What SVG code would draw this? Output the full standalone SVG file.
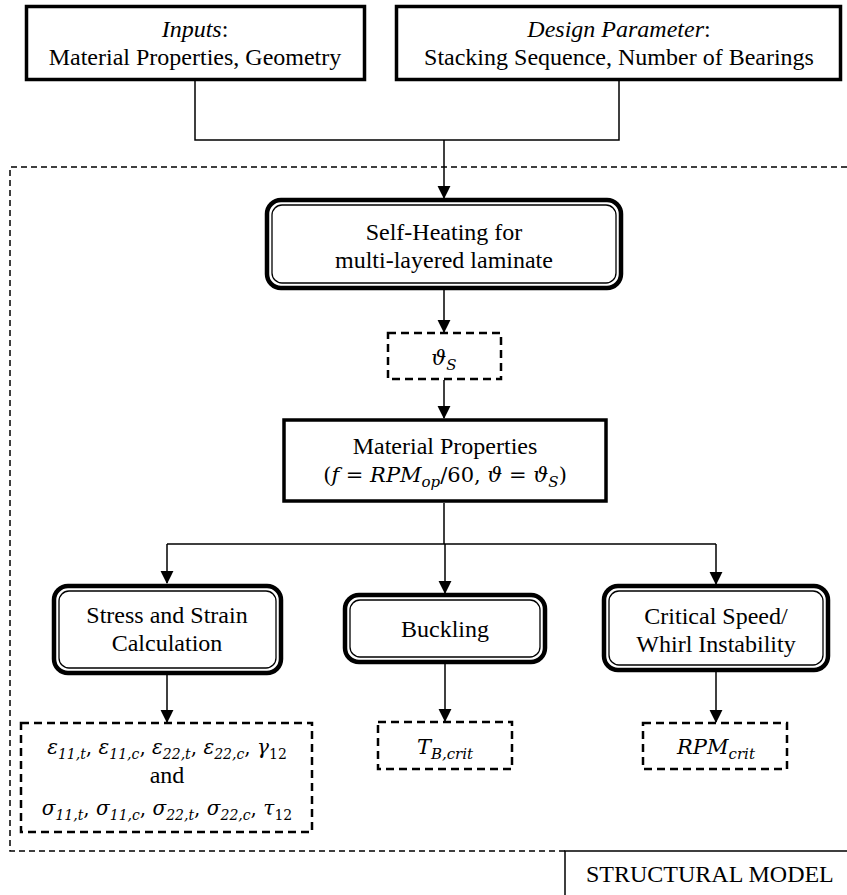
<svg xmlns="http://www.w3.org/2000/svg" width="847" height="895" viewBox="0 0 847 895">
<defs>
<marker id="ah" markerWidth="13" markerHeight="14" viewBox="0 0 14 14" refX="13" refY="7" orient="auto" markerUnits="userSpaceOnUse">
<path d="M0,0 L14,7 L0,14 Z" fill="#000"/>
</marker>
<style>
text{font-family:"Liberation Serif","Times New Roman",serif;font-size:24px;fill:#000}
.it{font-style:italic}
.m{font-family:"DejaVu Serif","Liberation Serif",serif;font-size:21px}
.m2{font-family:"DejaVu Serif","Liberation Serif",serif;font-size:20px}
.sub{font-size:15px}
.m2 .sub{font-size:14px}
.box{fill:#fff;stroke:#000;stroke-width:3.5}
.outer{fill:#fff;stroke:#000;stroke-width:4.5}
.inner{fill:none;stroke:#000;stroke-width:1.3}
.dbox{fill:#fff;stroke:#000;stroke-width:2.5;stroke-dasharray:8 5}
.region{fill:none;stroke:#000;stroke-width:1.5;stroke-dasharray:6 4}
.con{fill:none;stroke:#000;stroke-width:1.5}
</style>
</defs>
<rect width="847" height="895" fill="#fff"/>
<g id="region">
<path class="region" d="M847,167 H10 V851 H565"/>
</g>
<g id="structural-model">
<path d="M565,895 V851 H847" fill="none" stroke="#000" stroke-width="1.5"/>
<text x="586" y="882">STRUCTURAL MODEL</text>
</g>
<g id="connectors">
<path class="con" d="M195,81 V140 H619 V81"/>
<path class="con" d="M444,140 V198" marker-end="url(#ah)"/>
<path class="con" d="M444,290 V332" marker-end="url(#ah)"/>
<path class="con" d="M444,380 V418" marker-end="url(#ah)"/>
<path class="con" d="M444,503 V544 M167,544 H716"/>
<path class="con" d="M167,544 V583" marker-end="url(#ah)"/>
<path class="con" d="M445,544 V593" marker-end="url(#ah)"/>
<path class="con" d="M716,544 V584" marker-end="url(#ah)"/>
<path class="con" d="M167,675 V722" marker-end="url(#ah)"/>
<path class="con" d="M445,664 V721" marker-end="url(#ah)"/>
<path class="con" d="M716,672 V722" marker-end="url(#ah)"/>
</g>
<g id="inputs">
<rect class="box" x="26.5" y="6.5" width="338" height="73"/>
<text x="195" y="37" text-anchor="middle"><tspan class="it">Inputs</tspan>:</text>
<text x="195" y="65" text-anchor="middle">Material Properties, Geometry</text>
</g>
<g id="design-parameter">
<rect class="box" x="396.5" y="6.5" width="444" height="73"/>
<text x="619" y="37" text-anchor="middle"><tspan class="it">Design Parameter</tspan>:</text>
<text x="619" y="65" text-anchor="middle">Stacking Sequence, Number of Bearings</text>
</g>
<g id="self-heating">
<rect class="outer" x="267" y="200" width="354" height="88" rx="14"/>
<rect class="inner" x="272" y="205" width="344" height="78" rx="10"/>
<text x="444" y="240" text-anchor="middle">Self-Heating for</text>
<text x="444" y="268" text-anchor="middle">multi-layered laminate</text>
</g>
<g id="theta-s">
<rect class="dbox" x="388" y="333" width="113" height="46"/>
<text x="444" y="365" text-anchor="middle" class="m"><tspan class="it">ϑ</tspan><tspan class="sub it" dy="5">S</tspan></text>
</g>
<g id="material-properties">
<rect class="box" x="284" y="420" width="322" height="81"/>
<text x="445" y="454" text-anchor="middle">Material Properties</text>
<text x="445" y="482" text-anchor="middle" class="m">(<tspan class="it">f</tspan> = <tspan class="it">RPM</tspan><tspan class="sub it" dy="5">op</tspan><tspan dy="-5">/60, </tspan><tspan class="it">ϑ</tspan> = <tspan class="it">ϑ</tspan><tspan class="sub it" dy="5">S</tspan><tspan dy="-5">)</tspan></text>
</g>
<g id="stress-strain">
<rect class="outer" x="54" y="586" width="227" height="87" rx="14"/>
<rect class="inner" x="59" y="591" width="217" height="77" rx="10"/>
<text x="167" y="623" text-anchor="middle">Stress and Strain</text>
<text x="167" y="651" text-anchor="middle">Calculation</text>
</g>
<g id="buckling">
<rect class="outer" x="345" y="595" width="200" height="67" rx="14"/>
<rect class="inner" x="350" y="600" width="190" height="57" rx="10"/>
<text x="445" y="637" text-anchor="middle">Buckling</text>
</g>
<g id="critical-speed">
<rect class="outer" x="604" y="586" width="224" height="84" rx="14"/>
<rect class="inner" x="609" y="591" width="214" height="74" rx="10"/>
<text x="716" y="624" text-anchor="middle">Critical Speed/</text>
<text x="716" y="652" text-anchor="middle">Whirl Instability</text>
</g>
<g id="stress-strain-results">
<rect class="dbox" x="21" y="723" width="291" height="109"/>
<text x="167" y="754" text-anchor="middle" class="m2"><tspan class="it">ε</tspan><tspan class="sub it" dy="5">11,t</tspan><tspan dy="-5">, </tspan><tspan class="it">ε</tspan><tspan class="sub it" dy="5">11,c</tspan><tspan dy="-5">, </tspan><tspan class="it">ε</tspan><tspan class="sub it" dy="5">22,t</tspan><tspan dy="-5">, </tspan><tspan class="it">ε</tspan><tspan class="sub it" dy="5">22,c</tspan><tspan dy="-5">, </tspan><tspan class="it">γ</tspan><tspan class="sub" dy="5">12</tspan></text>
<text x="167" y="783" text-anchor="middle">and</text>
<text x="167" y="815" text-anchor="middle" class="m2"><tspan class="it">σ</tspan><tspan class="sub it" dy="5">11,t</tspan><tspan dy="-5">, </tspan><tspan class="it">σ</tspan><tspan class="sub it" dy="5">11,c</tspan><tspan dy="-5">, </tspan><tspan class="it">σ</tspan><tspan class="sub it" dy="5">22,t</tspan><tspan dy="-5">, </tspan><tspan class="it">σ</tspan><tspan class="sub it" dy="5">22,c</tspan><tspan dy="-5">, </tspan><tspan class="it">τ</tspan><tspan class="sub" dy="5">12</tspan></text>
</g>
<g id="t-b-crit">
<rect class="dbox" x="378" y="722" width="134" height="47"/>
<text x="445" y="754" text-anchor="middle" class="m"><tspan class="it">T</tspan><tspan class="sub it" dy="5">B,crit</tspan></text>
</g>
<g id="rpm-crit">
<rect class="dbox" x="643" y="723" width="144" height="46"/>
<text x="716" y="754" text-anchor="middle" class="m"><tspan class="it">RPM</tspan><tspan class="sub it" dy="5">crit</tspan></text>
</g>
</svg>
